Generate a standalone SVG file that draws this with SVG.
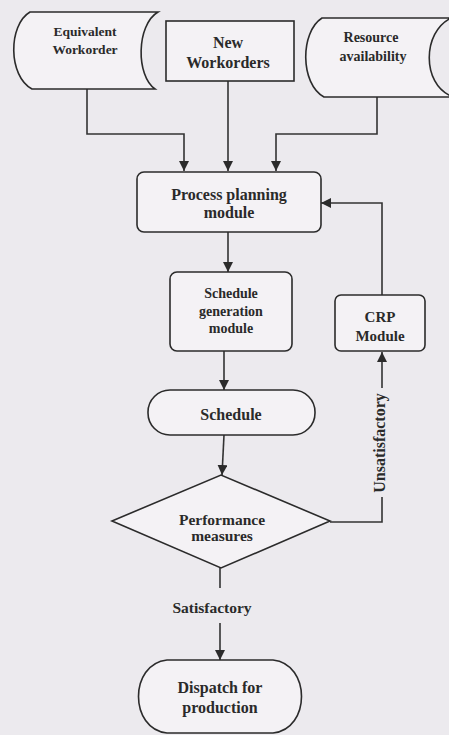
<svg xmlns="http://www.w3.org/2000/svg" width="449" height="735" viewBox="0 0 449 735">
<style>
.shape{fill:#f4f2f5;stroke:#2b2b2b;stroke-width:1.6}
.conn{fill:none;stroke:#333;stroke-width:1.6}
text{font-family:"Liberation Serif","Times New Roman",serif;font-weight:bold;fill:#2a2a2a;text-anchor:middle}
</style>
<defs>
<marker id="ah" markerUnits="userSpaceOnUse" markerWidth="11" markerHeight="11" refX="10" refY="5" orient="auto">
<path d="M0,0 L10,5 L0,10 Z" fill="#2b2b2b"/>
</marker>
</defs>
<rect width="449" height="735" fill="#ecEAee"/>
<g id="connectors">
<polyline class="conn" points="87,89 87,134 184,134 184,171" marker-end="url(#ah)"/>
<line class="conn" x1="228" y1="81" x2="228" y2="171" marker-end="url(#ah)"/>
<polyline class="conn" points="377,97 377,134 276,134 276,171" marker-end="url(#ah)"/>
<line class="conn" x1="228" y1="232" x2="228" y2="272" marker-end="url(#ah)"/>
<line class="conn" x1="224" y1="351" x2="224" y2="390" marker-end="url(#ah)"/>
<line class="conn" x1="224" y1="435" x2="222" y2="475" marker-end="url(#ah)"/>
<line class="conn" x1="220" y1="568" x2="220" y2="588"/>
<line class="conn" x1="220" y1="623" x2="220" y2="660" marker-end="url(#ah)"/>
<polyline class="conn" points="330,522 382,522 382,497"/>
<line class="conn" x1="382" y1="388" x2="382" y2="352" marker-end="url(#ah)"/>
<polyline class="conn" points="382,295 382,203 321,203" marker-end="url(#ah)"/>
<text x="212" y="613" font-size="15.5">Satisfactory</text>
<text transform="translate(385,443) rotate(-90)" font-size="16">Unsatisfactory</text>
</g>
<g id="equivalent-workorder">
<path class="shape" d="M30,12 L158,12 C136,25 136,76 155,89 L32,89 C8,76 8,25 30,12 Z"/>
<text x="85" y="36" font-size="13.5">Equivalent</text>
<text x="85" y="54" font-size="13.5">Workorder</text>
</g>
<g id="new-workorders">
<rect class="shape" x="166" y="21" width="128" height="60"/>
<text x="228" y="48" font-size="16">New</text>
<text x="228" y="68" font-size="16">Workorders</text>
</g>
<g id="resource-availability">
<path class="shape" d="M322,18 L451,18 C422,32 422,84 451,96 L451,97 L324,97 C300,84 300,32 322,18 Z"/>
<text x="371" y="42" font-size="14">Resource</text>
<text x="373" y="61" font-size="14">availability</text>
</g>
<g id="process-planning">
<rect class="shape" x="137" y="172" width="184" height="60" rx="7"/>
<text x="229" y="200" font-size="16">Process planning</text>
<text x="229" y="218" font-size="16">module</text>
</g>
<g id="schedule-generation">
<rect class="shape" x="170" y="272" width="122" height="79" rx="7"/>
<text x="231" y="298" font-size="14">Schedule</text>
<text x="231" y="316" font-size="14">generation</text>
<text x="231" y="333" font-size="14">module</text>
</g>
<g id="crp-module">
<rect class="shape" x="335" y="295" width="90" height="56" rx="6"/>
<text x="380" y="322" font-size="15">CRP</text>
<text x="380" y="341" font-size="15">Module</text>
</g>
<g id="schedule">
<rect class="shape" x="148" y="390" width="167" height="45" rx="22" ry="22"/>
<text x="231" y="420" font-size="16">Schedule</text>
</g>
<g id="performance-measures">
<polygon class="shape" points="112,521 221,475 330,521 221,568"/>
<text x="222" y="525" font-size="15.5">Performance</text>
<text x="222" y="541" font-size="15.5">measures</text>
</g>
<g id="dispatch">
<path class="shape" d="M167,660 L273,660 C311,664 311,729 273,733 L167,733 C129,729 129,664 167,660 Z"/>
<text x="220" y="693" font-size="16">Dispatch for</text>
<text x="220" y="713" font-size="16">production</text>
</g>
</svg>
